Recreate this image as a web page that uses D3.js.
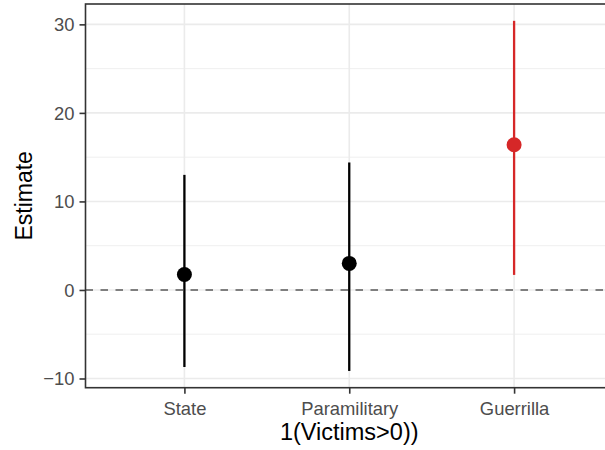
<!DOCTYPE html>
<html>
<head>
<meta charset="utf-8">
<script src="https://cdn.jsdelivr.net/npm/d3@7"></script>
<style>
  body { margin: 0; background: #fff; }
  text { font-family: "Liberation Sans", Arial, Helvetica, sans-serif; }
</style>
</head>
<body>
<svg id="chart" width="605" height="450"></svg>
<script>
const categories = ["State", "Paramilitary", "Guerrilla"];
const estimates = [1.75, 3.0, 16.4];
const lower = [-8.7, -9.15, 1.7];
const upper = [13.0, 14.4, 30.4];
const colors = ["#000000", "#000000", "#d62728"];
const yTicks = [-10, 0, 10, 20, 30];
const yMinor = [-5, 5, 15, 25];

const svg = d3.select("#chart");
const pLeft = 85.5, pRight = 613, pTop = 4, pBottom = 387.7;

const x = d3.scalePoint().domain(categories).range([pLeft, pRight]).padding(0.6);
const y = d3.scaleLinear().domain([-11.04, 32.3]).range([pBottom, pTop]);

const data = categories.map((c, i) => ({ cat: c, est: estimates[i], lo: lower[i], hi: upper[i], col: colors[i] }));

const panel = svg.append("g");

// grid
panel.selectAll("line.minor").data(yMinor).enter().append("line")
    .attr("x1", pLeft).attr("x2", pRight)
    .attr("y1", d => y(d)).attr("y2", d => y(d))
    .attr("stroke", "#ebebeb").attr("stroke-width", 0.8);
panel.selectAll("line.major").data(yTicks).enter().append("line")
    .attr("x1", pLeft).attr("x2", pRight)
    .attr("y1", d => y(d)).attr("y2", d => y(d))
    .attr("stroke", "#ebebeb").attr("stroke-width", 1.6);
panel.selectAll("line.vmajor").data(categories).enter().append("line")
    .attr("x1", d => x(d)).attr("x2", d => x(d))
    .attr("y1", pTop).attr("y2", pBottom)
    .attr("stroke", "#ebebeb").attr("stroke-width", 1.6);

// zero line
panel.append("line")
    .attr("x1", pLeft).attr("x2", pRight)
    .attr("y1", y(0)).attr("y2", y(0))
    .attr("stroke", "#7f7f7f").attr("stroke-width", 2)
    .attr("stroke-dasharray", "7.5,7.5");

// error bars + points
panel.selectAll("line.err").data(data).enter().append("line")
    .attr("x1", d => x(d.cat)).attr("x2", d => x(d.cat))
    .attr("y1", d => y(d.lo)).attr("y2", d => y(d.hi))
    .attr("stroke", d => d.col).attr("stroke-width", 2.3);
panel.selectAll("circle").data(data).enter().append("circle")
    .attr("cx", d => x(d.cat)).attr("cy", d => y(d.est))
    .attr("r", 7.5).attr("fill", d => d.col);

// border
panel.append("rect")
    .attr("x", pLeft).attr("y", pTop)
    .attr("width", pRight - pLeft).attr("height", pBottom - pTop)
    .attr("fill", "none").attr("stroke", "#333333").attr("stroke-width", 1.6);

// axes
const yAxis = svg.append("g")
    .attr("transform", `translate(${pLeft},0)`)
    .call(d3.axisLeft(y).tickValues(yTicks).tickSize(6).tickPadding(5)
        .tickFormat(d => d < 0 ? "\u2212" + Math.abs(d) : d));
const xAxis = svg.append("g")
    .attr("transform", `translate(0,${pBottom})`)
    .call(d3.axisBottom(x).tickSize(6).tickPadding(8));

[xAxis, yAxis].forEach(a => {
    a.select(".domain").remove();
    a.selectAll(".tick line").attr("stroke", "#333333").attr("stroke-width", 1.6);
    a.selectAll(".tick text").attr("fill", "#4d4d4d").style("font-size", "18.4px");
});
yAxis.selectAll(".tick text").attr("dy", "0.35em");

svg.append("text")
    .attr("x", (pLeft + pRight) / 2).attr("y", 440)
    .attr("text-anchor", "middle").style("font-size", "23.5px").attr("fill", "#000")
    .text("1(Victims>0))");

svg.append("text")
    .attr("transform", `translate(32,${(pTop + pBottom) / 2}) rotate(-90)`)
    .attr("text-anchor", "middle").style("font-size", "23px").attr("fill", "#000")
    .text("Estimate");
</script>
</body>
</html>
